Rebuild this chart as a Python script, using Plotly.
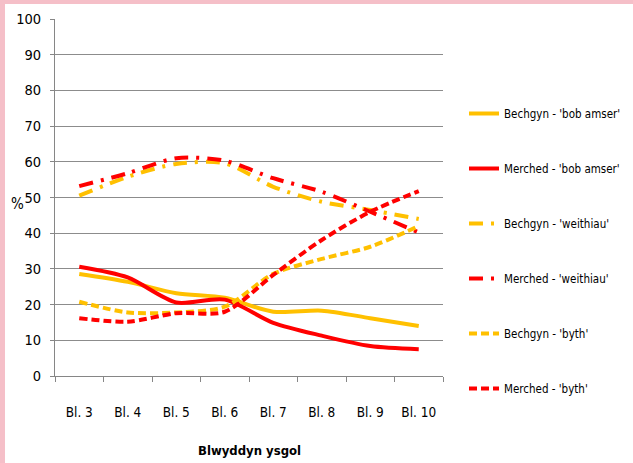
import plotly.graph_objects as go

categories = ["Bl. 3", "Bl. 4", "Bl. 5", "Bl. 6", "Bl. 7", "Bl. 8", "Bl. 9", "Bl. 10"]
bechgyn_bob_amser = [28.6, 26.4, 23.2, 21.9, 18.0, 18.3, 16.2, 14.0]
merched_bob_amser = [30.6, 27.6, 20.6, 21.4, 14.9, 11.3, 8.4, 7.5]
bechgyn_weithiau = [50.5, 55.8, 59.4, 59.6, 53.0, 48.8, 46.5, 44.0]
merched_weithiau = [53.2, 56.8, 61.0, 60.3, 55.4, 51.6, 46.0, 40.2]
bechgyn_byth = [20.8, 17.8, 17.8, 19.4, 28.6, 32.8, 36.2, 42.0]
merched_byth = [16.2, 15.2, 17.6, 18.0, 28.3, 38.1, 46.0, 51.8]
y_ticks = [0, 10, 20, 30, 40, 50, 60, 70, 80, 90, 100]

ORANGE = "#FFC000"
RED = "#FF0000"
FONT = "DejaVu Sans Condensed, Liberation Sans Narrow, Liberation Sans, sans-serif"

series = [
    ("Bechgyn - 'bob amser'", bechgyn_bob_amser, ORANGE, "solid"),
    ("Merched - 'bob amser'", merched_bob_amser, RED, "solid"),
    ("Bechgyn - 'weithiau'", bechgyn_weithiau, ORANGE, "14px,8px,3px,8px"),
    ("Merched - 'weithiau'", merched_weithiau, RED, "14px,8px,3px,8px"),
    ("Bechgyn - 'byth'", bechgyn_byth, ORANGE, "8px,4px"),
    ("Merched - 'byth'", merched_byth, RED, "8px,4px"),
]

fig = go.Figure()
for i, (name, vals, col, dash) in enumerate(series):
    fig.add_trace(go.Scatter(
        x=categories, y=vals, name=name, mode="lines",
        line=dict(color=col, width=4, dash=dash, shape="spline", smoothing=0.8),
        legendgroup=f"g{i}",
    ))

# plot area: x 55..443, y 19..376 (px) in 633x463
L, R, T, B = 55, 190, 19, 87
W, H = 633, 463
pw, ph = W - L - R, H - T - B

def px_x(p):
    return (p - L) / pw

def px_y(p):
    return (H - B - p) / ph

PINK = "#F5BFC8"
shapes = [
    dict(type="rect", xref="paper", yref="paper", x0=px_x(0), x1=px_x(5),
         y0=px_y(H), y1=px_y(0), fillcolor=PINK, line=dict(width=0), layer="above"),
    dict(type="rect", xref="paper", yref="paper", x0=px_x(0), x1=px_x(W),
         y0=px_y(4), y1=px_y(0), fillcolor=PINK, line=dict(width=0), layer="above"),
]

fig.update_layout(
    width=W, height=H,
    margin=dict(l=L, r=R, t=T, b=B, pad=0, autoexpand=False),
    paper_bgcolor="white", plot_bgcolor="white",
    font=dict(family=FONT, size=14, color="#000000"),
    showlegend=True,
    legend=dict(
        x=px_x(464), y=px_y(99), xanchor="left", yanchor="top",
        font=dict(family=FONT, size=11.5, color="#000000"),
        tracegroupgap=36, itemwidth=30, bgcolor="rgba(0,0,0,0)",
    ),
    shapes=shapes,
    annotations=[
        dict(text="%", xref="paper", yref="paper", x=px_x(17), y=px_y(204),
             showarrow=False, xanchor="center", yanchor="middle",
             font=dict(family=FONT, size=15)),
        dict(text="<b>Blwyddyn ysgol</b>", xref="paper", yref="paper",
             x=px_x(249), y=px_y(451), showarrow=False, xanchor="center",
             yanchor="middle", font=dict(family=FONT, size=13)),
    ],
)

fig.update_xaxes(
    type="category", range=[-0.5, 7.5], automargin=False,
    showline=True, linecolor="#868686", linewidth=1,
    ticks="outside", tickson="boundaries", ticklen=5, tickcolor="#868686",
    showgrid=False, ticklabelstandoff=24,
    tickfont=dict(family=FONT, size=13.5),
)
fig.update_yaxes(
    range=[0, 100], tickvals=y_ticks, automargin=False,
    showline=True, linecolor="#868686", linewidth=1,
    ticks="outside", ticklen=4, tickcolor="#868686",
    showgrid=True, gridcolor="#8C8C8C", gridwidth=1,
    zeroline=False, ticklabelstandoff=6,
    tickfont=dict(family=FONT, size=14.5),
)

fig.write_html(
    "out.html",
    config={"displayModeBar": False},
    post_script="document.body.style.margin='0px';",
)
